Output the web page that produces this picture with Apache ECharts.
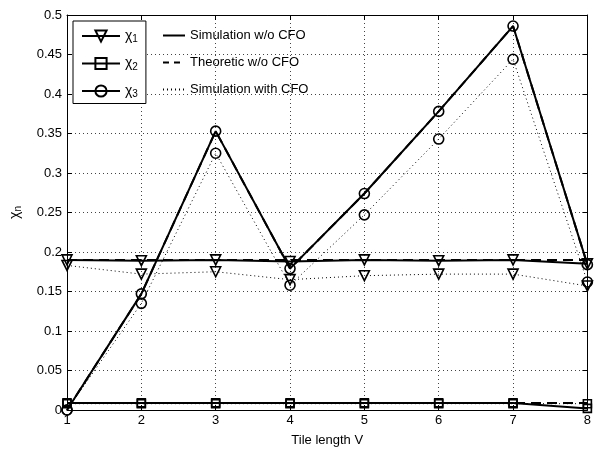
<!DOCTYPE html>
<html>
<head>
<meta charset="utf-8">
<script src="https://cdn.jsdelivr.net/npm/echarts@6/dist/echarts.min.js"></script>
<style>html,body{margin:0;padding:0;background:#fff}#c{width:594px;height:452px}</style>
</head>
<body>
<div id="c"></div>
<script>
// ---- data ----
const tileLength = [1, 2, 3, 4, 5, 6, 7, 8];
const chi1Sim = [0.190, 0.189, 0.190, 0.188, 0.190, 0.189, 0.190, 0.185];
const chi2Sim = [0.009, 0.009, 0.009, 0.009, 0.009, 0.009, 0.009, 0.002];
const chi3Sim = [0.000, 0.147, 0.353, 0.179, 0.274, 0.378, 0.486, 0.184];
const chi1Theo = [0.190, 0.190, 0.190, 0.190, 0.190, 0.190, 0.190, 0.190];
const chi2Theo = [0.009, 0.009, 0.009, 0.009, 0.009, 0.009, 0.009, 0.009];
const chi3Theo = [0.000, 0.147, 0.353, 0.179, 0.274, 0.378, 0.486, 0.184];
const chi1Cfo = [0.183, 0.172, 0.175, 0.165, 0.170, 0.172, 0.172, 0.157];
const chi2Cfo = [0.008, 0.008, 0.008, 0.008, 0.008, 0.008, 0.008, 0.008];
const chi3Cfo = [0.000, 0.135, 0.325, 0.158, 0.247, 0.343, 0.444, 0.162];
const xLabel = 'Tile length V';
const chiNames = ['χ1', 'χ2', 'χ3'];
const styleNames = ['Simulation w/o CFO', 'Theoretic w/o CFO', 'Simulation with CFO'];

const FONT = 'Liberation Sans, Arial, sans-serif';
const pair = a => a.map((v, i) => [tileLength[i], v]);
const markers = [
  { symbol: 'triangle', rotate: 180, size: 10 },
  { symbol: 'rect', rotate: 0, size: 8 },
  { symbol: 'circle', rotate: 0, size: 10 }
];
const hollow = { color: 'rgba(255,255,255,0)', borderColor: '#000', borderWidth: 1.6 };

const series = [];
const sims = [chi1Sim, chi2Sim, chi3Sim];
const theos = [chi1Theo, chi2Theo, chi3Theo];
const cfos = [chi1Cfo, chi2Cfo, chi3Cfo];
for (let k = 0; k < 3; k++) {
  series.push({
    name: 'theo' + k, type: 'line', data: pair(theos[k]), symbol: 'none',
    lineStyle: { color: '#000', width: 2, type: [10, 6] }, z: 2, silent: true
  });
  series.push({
    name: 'cfo' + k, type: 'line', data: pair(cfos[k]),
    symbol: markers[k].symbol, symbolSize: markers[k].size, symbolRotate: markers[k].rotate,
    itemStyle: hollow, lineStyle: { color: '#000', width: 1, type: [1, 3] }, z: 3
  });
  series.push({
    name: chiNames[k], type: 'line', data: pair(sims[k]),
    symbol: markers[k].symbol, symbolSize: markers[k].size, symbolRotate: markers[k].rotate,
    itemStyle: hollow, lineStyle: { color: '#000', width: 2 }, z: 4
  });
}
const dummyItem = { color: 'rgba(0,0,0,0)', borderColor: 'rgba(0,0,0,0)' };
series.push({ name: styleNames[0], type: 'line', data: [], symbol: 'none', itemStyle: dummyItem, lineStyle: { color: '#000', width: 1.6 } });
series.push({ name: styleNames[1], type: 'line', data: [], symbol: 'none', itemStyle: dummyItem, lineStyle: { color: '#000', width: 2, type: [6, 5] } });
series.push({ name: styleNames[2], type: 'line', data: [], symbol: 'none', itemStyle: dummyItem, lineStyle: { color: '#000', width: 1, type: [1, 3] } });

const tickStyle = { show: true, inside: true, length: 5, lineStyle: { color: '#000' } };
const axisLine = { show: true, onZero: false, lineStyle: { color: '#000', width: 1 } };
const gridLine = { color: '#444', width: 1, type: [1, 3] };

const option = {
  backgroundColor: '#fff',
  animation: false,
  grid: { left: 66, right: 3, top: 15, bottom: 35 },
  xAxis: [
    { type: 'value', min: 1, max: 8, interval: 1, position: 'bottom',
      name: xLabel, nameLocation: 'middle', nameGap: 24,
      nameTextStyle: { fontFamily: FONT, fontSize: 13, color: '#000' },
      axisLine, axisTick: tickStyle,
      axisLabel: { fontFamily: FONT, fontSize: 13, color: '#000', margin: 4 },
      splitLine: { show: true, lineStyle: gridLine } },
    { type: 'value', min: 1, max: 8, interval: 1, position: 'top',
      axisLine, axisTick: tickStyle, axisLabel: { show: false }, splitLine: { show: false } }
  ],
  yAxis: [
    { type: 'value', min: 0, max: 0.5, interval: 0.05, position: 'left',
      name: '{a|χ}{s|n}', nameLocation: 'middle', nameGap: 44, nameRotate: 90,
      nameTextStyle: { rich: { a: { fontFamily: FONT, fontSize: 14, color: '#000' }, s: { fontFamily: FONT, fontSize: 10, color: '#000', padding: [6, 0, 0, 0] } } },
      axisLine, axisTick: tickStyle,
      axisLabel: { fontFamily: FONT, fontSize: 13, color: '#000', margin: 5,
        formatter: v => String(+v.toFixed(2)) },
      splitLine: { show: true, lineStyle: gridLine } },
    { type: 'value', min: 0, max: 0.5, interval: 0.05, position: 'right',
      axisLine, axisTick: tickStyle, axisLabel: { show: false }, splitLine: { show: false } }
  ],
  legend: [
    { data: chiNames, orient: 'vertical', left: 73, top: 21,
      width: 73, padding: [8, 8, 4, 8], itemGap: 12, itemWidth: 38, itemHeight: 14,
      backgroundColor: '#fff', borderColor: '#000', borderWidth: 1, borderRadius: 0,
      selectedMode: false, symbolRotate: 'inherit',
      formatter: n => '{a|χ}{s|' + n.slice(1) + '}',
      textStyle: { rich: { a: { fontFamily: FONT, fontSize: 14, color: '#000' }, s: { fontFamily: FONT, fontSize: 10, color: '#000', padding: [7, 0, 0, 0] } } } },
    { data: styleNames, orient: 'vertical', left: 162, top: 29,
      padding: 0, itemGap: 14, itemWidth: 22, itemHeight: 13, selectedMode: false,
      itemStyle: { opacity: 0 },
      textStyle: { fontFamily: FONT, fontSize: 13, color: '#000' } }
  ],
  series
};
const chart = echarts.init(document.getElementById('c'), null, { renderer: 'canvas' });
chart.setOption(option);
</script>
</body>
</html>
